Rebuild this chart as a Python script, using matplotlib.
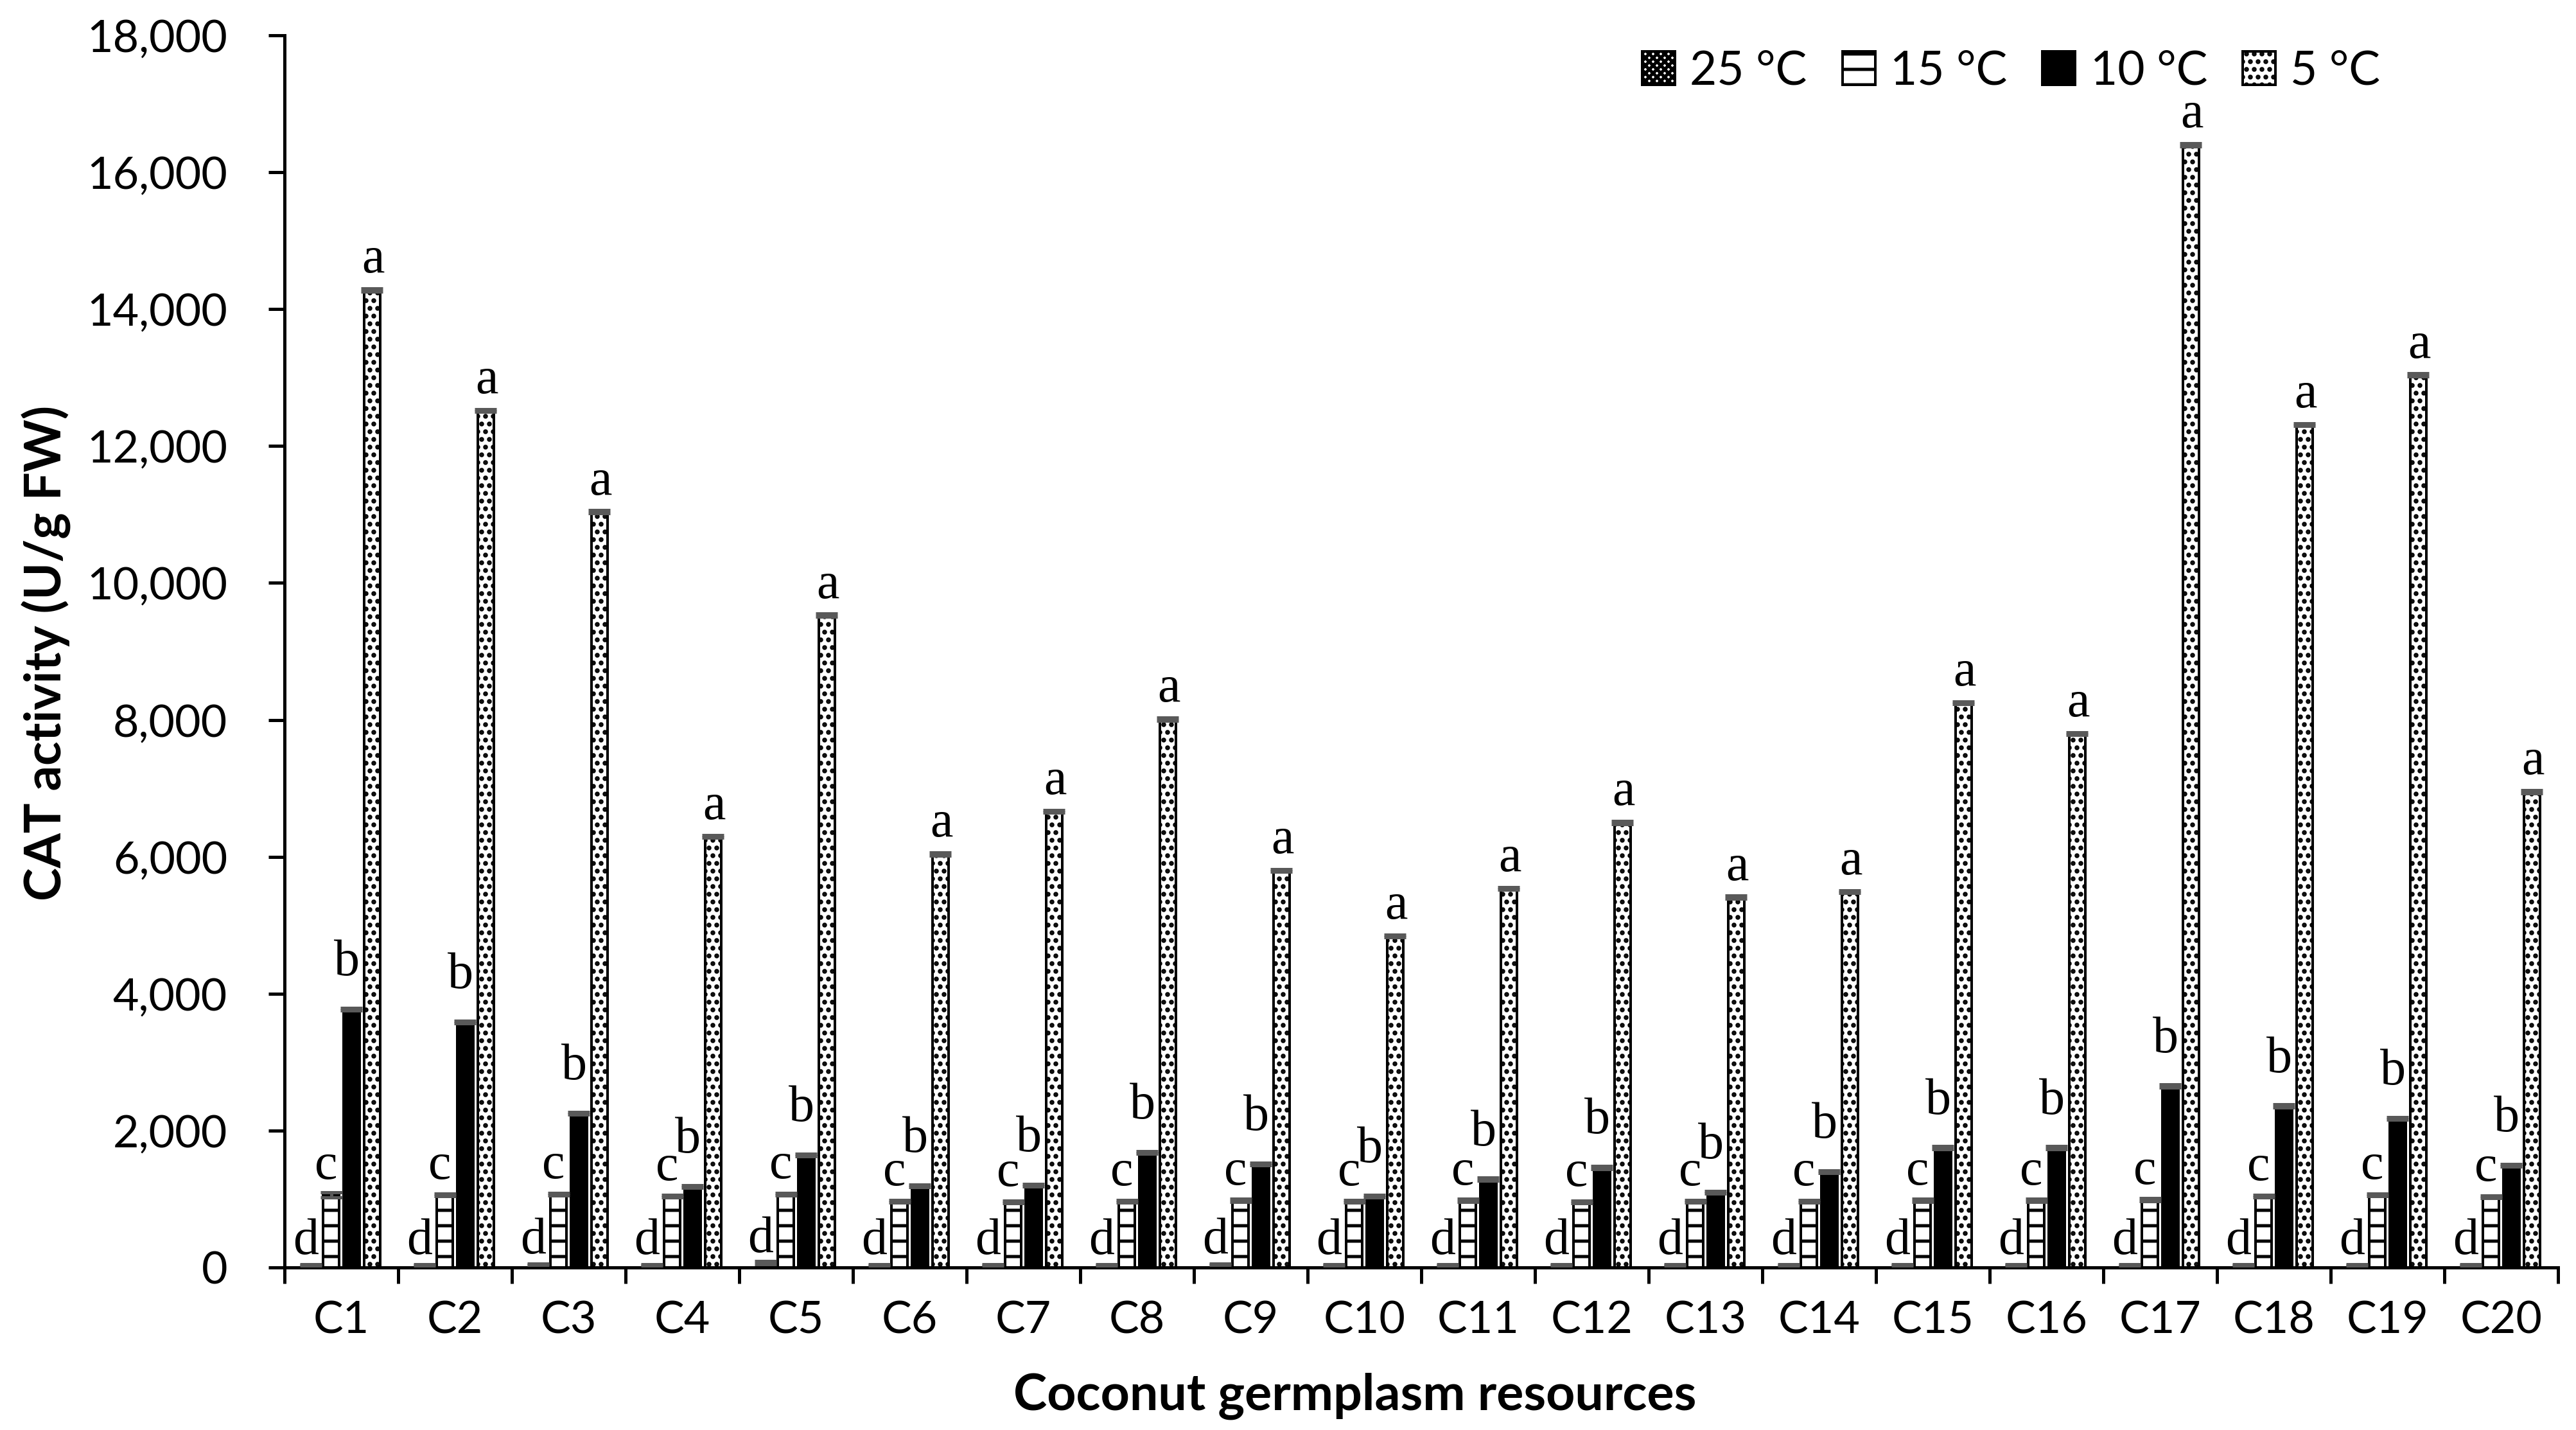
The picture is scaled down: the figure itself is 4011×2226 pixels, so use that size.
import matplotlib
matplotlib.use('Agg')
import matplotlib.pyplot as plt
import numpy as np
from matplotlib.ticker import FuncFormatter

# ---------------- data ----------------
categories = ['C1', 'C2', 'C3', 'C4', 'C5', 'C6', 'C7', 'C8', 'C9', 'C10',
              'C11', 'C12', 'C13', 'C14', 'C15', 'C16', 'C17', 'C18', 'C19', 'C20']
series_labels = ['25 °C', '15 °C', '10 °C', '5 °C']

t25 = [40, 40, 45, 40, 70, 40, 40, 40, 45, 40, 40, 40, 40, 40, 40, 40, 40, 40, 40, 40]
t15 = [1060, 1060, 1070, 1040, 1070, 970, 960, 970, 980, 970,
       980, 960, 970, 970, 980, 980, 990, 1040, 1060, 1030]
t10 = [3770, 3585, 2250, 1180, 1640, 1190, 1200, 1680, 1510, 1040,
       1290, 1460, 1100, 1400, 1750, 1750, 2650, 2360, 2180, 1490]
t5 = [14280, 12520, 11040, 6300, 9530, 6040, 6660, 8010, 5800, 4840,
      5540, 6500, 5410, 5490, 8250, 7800, 16400, 12310, 13040, 6950]

e25 = [10, 10, 10, 10, 20, 10, 10, 10, 10, 10, 10, 10, 10, 10, 10, 10, 10, 10, 10, 10]
e15 = [35, 20, 20, 20, 20, 20, 20, 20, 20, 20, 20, 20, 20, 20, 20, 20, 20, 20, 20, 20]
e10 = [20, 20, 20, 20, 20, 20, 20, 20, 20, 20, 20, 20, 20, 20, 20, 20, 20, 20, 20, 20]
e5 = [20, 20, 20, 20, 20, 20, 20, 20, 20, 20, 20, 20, 20, 20, 20, 20, 20, 20, 20, 20]

letters25 = ['d'] * 20
letters15 = ['c'] * 20
letters10 = ['b'] * 20
letters5 = ['a'] * 20

yticks = [0, 2000, 4000, 6000, 8000, 10000, 12000, 14000, 16000, 18000]

# ---------------- style ----------------
plt.rcParams['font.family'] = ['Lato', 'DejaVu Sans']
plt.rcParams['hatch.linewidth'] = 2.5
plt.rcParams['hatch.color'] = 'black'

W, H, DPI = 4011, 2226, 144
fig = plt.figure(figsize=(W / DPI, H / DPI), dpi=DPI)
ax = fig.add_axes([443 / W, 1 - 1973 / H, (3983 - 443) / W, (1973 - 55) / H])

x = np.arange(len(categories))
slot = 0.18
bw = 0.14

values = [t25, t15, t10, t5]
errors = [e25, e15, e10, e5]
letters = [letters25, letters15, letters10, letters5]
styles = [dict(facecolor='white', hatch='xxxx'),
          dict(facecolor='white', hatch='-'),
          dict(facecolor='black'),
          dict(facecolor='white', hatch='..')]
offsets = [(-4, 8.5), (-4, 12.5), (-3.5, 26.5), (1, 13.5)]

for k in range(4):
    pos = x + (k - 1.5) * slot
    ax.bar(pos, values[k], bw, edgecolor='black', linewidth=2.0,
           label=series_labels[k], zorder=2, **styles[k])
    ax.errorbar(pos, values[k], yerr=errors[k], fmt='none', ecolor='#595959',
                elinewidth=2.5, capsize=8.5, capthick=2.5, zorder=3)
    for p, v, l in zip(pos, values[k], letters[k]):
        ax.annotate(l, (p, v), xytext=offsets[k], textcoords='offset points',
                    ha='center', va='baseline', fontsize=40,
                    family='Liberation Serif', zorder=4)

ax.set_xlim(-0.5, len(categories) - 0.5)
ax.set_ylim(0, 18000)

for s in ['top', 'right']:
    ax.spines[s].set_visible(False)
for s in ['left', 'bottom']:
    ax.spines[s].set_linewidth(2.5)

ax.set_yticks(yticks)
ax.yaxis.set_major_formatter(FuncFormatter(lambda v, p: f'{int(v):,}'))
ax.tick_params(axis='y', length=12.5, width=2.5, pad=32, labelsize=35)

ax.set_xticks(np.arange(-0.5, len(categories), 1.0))
ax.set_xticklabels([])
ax.set_xticks(x, minor=True)
ax.set_xticklabels(categories, minor=True)
ax.tick_params(axis='x', which='major', length=12.5, width=2.5)
ax.tick_params(axis='x', which='minor', length=0, pad=26, labelsize=35)

fig.text(2110 / W, 1 - 2195 / H, 'Coconut germplasm resources', ha='center',
         va='baseline', fontsize=39.5, fontweight='bold')
fig.text(72 / W, 1 - 1016 / H, 'CAT activity (U/g FW)', ha='center', va='center',
         rotation=90, fontsize=39, fontweight='bold')

ax.legend(loc='center left', bbox_to_anchor=(2557 / W, 1 - 111 / H),
          bbox_transform=fig.transFigure, ncol=4, frameon=False, fontsize=36.5,
          handlelength=0.7, handleheight=0.7, handletextpad=0.32,
          columnspacing=0.75, borderpad=0, borderaxespad=0)

fig.savefig('out.png', dpi=DPI)
